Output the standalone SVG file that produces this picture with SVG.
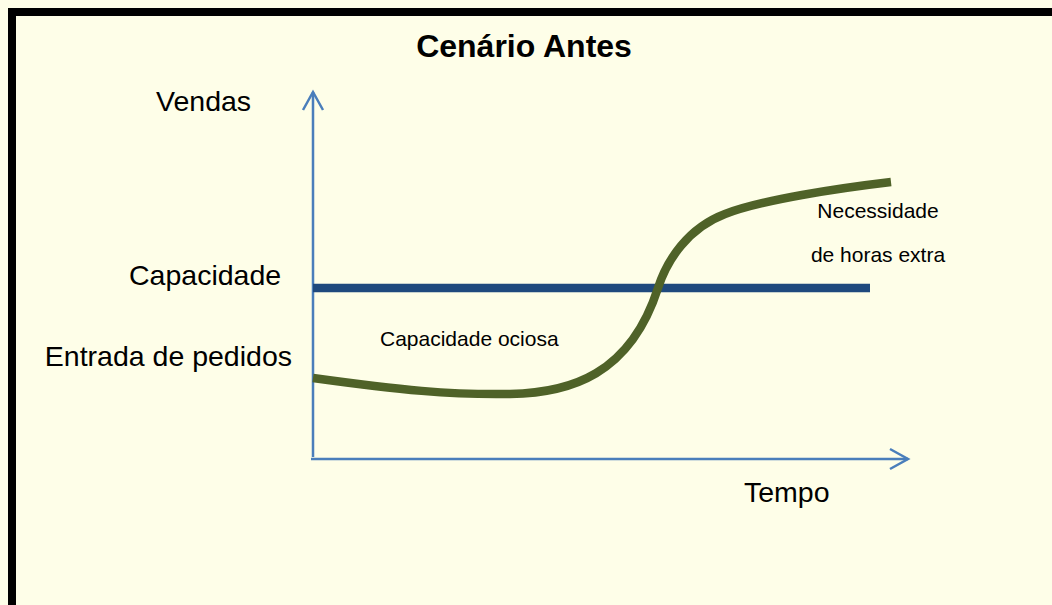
<svg xmlns="http://www.w3.org/2000/svg" width="1052" height="605" viewBox="0 0 1052 605">
<style>
.lbl{font-family:"Liberation Sans",Arial,sans-serif;fill:#000}
.big{font-size:28.5px}
.small{font-size:21px}
.title{font-size:32px;font-weight:bold}
.axis{fill:none;stroke:#4a7ebb;stroke-width:2.5}
</style>
<defs>
<marker id="arrow" markerUnits="userSpaceOnUse" markerWidth="40" markerHeight="40" viewBox="-25 -20 40 40" refX="0" refY="0" orient="auto">
<path d="M-18,-10 L0,0 L-18,10" fill="none" stroke="#4a7ebb" stroke-width="2.5"/>
</marker>
</defs>
<rect x="0" y="0" width="1052" height="605" fill="#fefee8"/>
<rect id="frame" x="12" y="12" width="1100" height="700" fill="#fefee8" stroke="#000" stroke-width="8"/>
<g id="connectors">
<path id="axis-y" class="axis" d="M313,457 L313,92" marker-end="url(#arrow)"/>
<path id="axis-x" class="axis" d="M311,459 L908,459" marker-end="url(#arrow)"/>
<path id="capacity-line" d="M313,288 L870,288" fill="none" stroke="#1f497d" stroke-width="8.5"/>
<path id="demand-curve" d="M313,378 C400,390 450,395 510,394 C570,393 630,375 658,288 C667,260 688,228 725,214 C760,200 840,188 891,182" fill="none" stroke="#4f6228" stroke-width="8.5"/>
</g>
<g id="title"><text class="lbl title" x="524" y="57" text-anchor="middle">Cenário Antes</text></g>
<g id="label-vendas"><text class="lbl big" x="156" y="111">Vendas</text></g>
<g id="label-capacidade"><text class="lbl big" x="129" y="285">Capacidade</text></g>
<g id="label-entrada"><text class="lbl big" x="292" y="366" text-anchor="end">Entrada de pedidos</text></g>
<g id="label-tempo"><text class="lbl big" x="744" y="502">Tempo</text></g>
<g id="label-ociosa"><text class="lbl small" x="380" y="346">Capacidade ociosa</text></g>
<g id="label-necessidade"><text class="lbl small" text-anchor="middle"><tspan x="878" y="218">Necessidade</tspan><tspan x="878" y="262">de horas extra</tspan></text></g>
</svg>
